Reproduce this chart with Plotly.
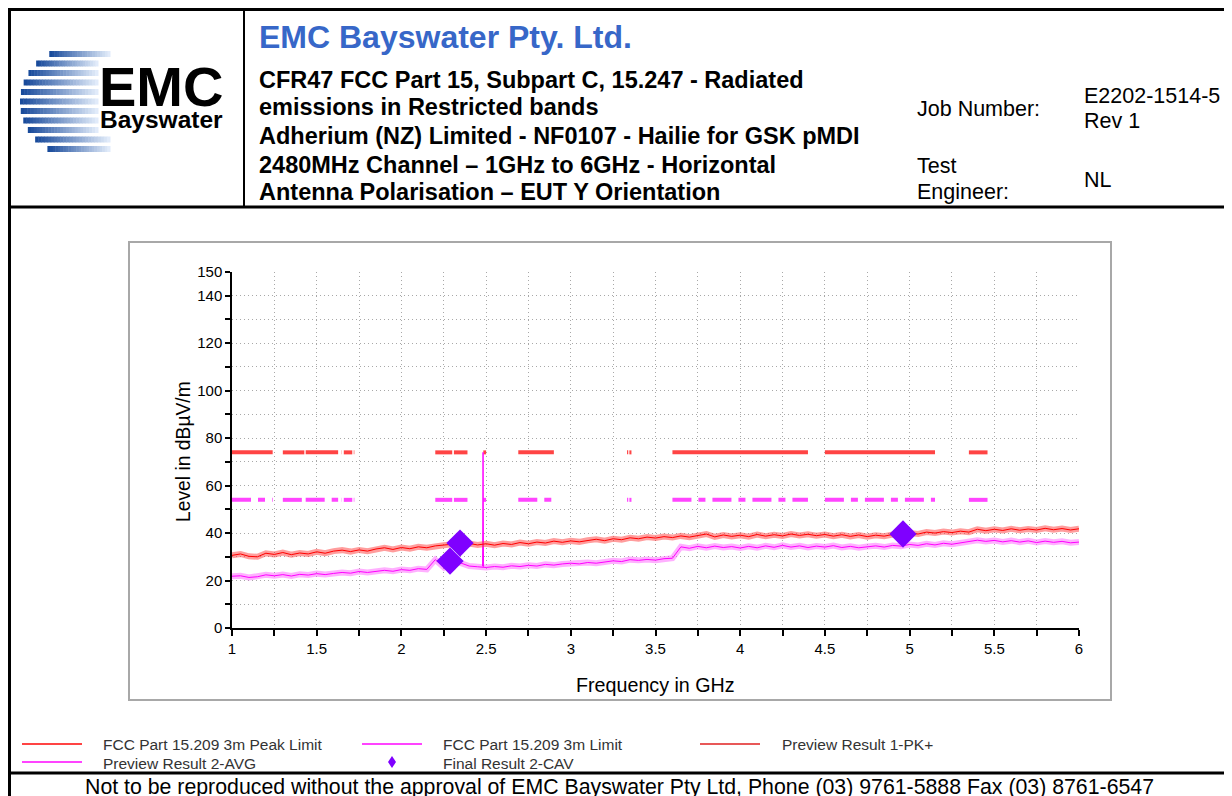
"""
EMC Bayswater radiated emissions plot (1 GHz - 6 GHz, horizontal, EUT Y)
Rebuilt with plotly
"""

import math
import plotly.graph_objects as go

W, H = 1232, 796
OFF = 8  # the page body margin shifts the figure by 8px
FONT = "Arial, Liberation Sans, sans-serif"

# sweep grid of the preview scans (GHz), 50 MHz steps
sweep_start = 1.0
sweep_step = 0.05
freq_ghz = [round(sweep_start + sweep_step * i, 2) for i in range(101)]

# Preview Result 1-PK+ (dBuV/m)
peak_level = [
    30.6, 31.2, 30.2, 30.0, 31.5, 31.0, 31.8, 30.9, 31.6, 31.2,
    32.1, 31.5, 32.4, 32.8, 32.2, 32.9, 32.4, 33.3, 33.8, 33.1,
    33.9, 33.4, 34.2, 33.8, 34.6, 34.9, 35.3, 34.8, 35.6, 35.0,
    35.5, 34.9, 35.6, 35.2, 36.0, 35.5, 36.2, 35.8, 36.6, 36.1,
    36.7, 36.3, 37.0, 37.4, 36.8, 37.6, 37.2, 38.0, 37.6, 38.3,
    37.9, 38.5, 38.1, 38.8, 38.3, 39.0, 39.6, 38.4, 39.2, 38.6,
    39.1, 38.5, 39.4, 38.7, 39.3, 38.8, 39.6, 39.0, 39.5, 38.9,
    39.4, 38.7, 39.3, 38.6, 39.2, 38.5, 39.1, 38.7, 39.4, 39.0,
    40.0, 39.6, 40.4, 40.0, 40.6, 40.2, 40.8, 40.4, 41.6, 41.0,
    41.6, 41.1, 41.8, 41.2, 41.7, 41.3, 42.0, 41.4, 41.9, 41.3,
    41.8,
]

# Preview Result 2-AVG (dBuV/m)
avg_level = [
    21.8, 22.0, 21.3, 21.6, 22.4, 22.0, 22.5, 21.9, 22.6, 22.3,
    22.9, 22.5, 23.0, 23.4, 23.1, 23.8, 23.4, 24.0, 24.3, 23.9,
    24.6, 24.3, 25.0, 24.7, 28.8, 25.6, 29.5, 27.4, 26.1, 25.8,
    25.5, 25.9, 25.6, 26.2, 25.9, 26.4, 26.1, 26.8, 26.5, 27.0,
    27.3, 27.0, 27.6, 27.3, 27.9, 28.3, 28.0, 28.8, 28.5, 28.9,
    28.6, 29.2, 29.4, 34.2, 33.6, 34.4, 33.8, 34.5, 33.9, 34.3,
    33.7, 34.4, 33.8, 34.6, 34.0, 34.8, 34.1, 34.6, 33.9, 34.5,
    34.1, 34.7, 33.9, 34.4, 33.8, 34.3, 34.6, 34.1, 34.8, 34.5,
    35.2, 34.8, 35.5, 35.0, 35.7, 35.3, 35.9, 36.4, 37.0, 36.5,
    36.9, 36.3, 36.8, 36.2, 36.7, 36.0, 36.6, 36.1, 36.5, 35.9,
    36.2,
]

# carrier spike seen in the AVG preview at 2480 MHz
carrier_freq = [2.479, 2.482, 2.485]
carrier_level = [26.0, 74.0, 25.8]

# Final Result 2-CAV
final_freq = [2.287, 2.346, 4.961]
final_level = [28.2, 35.8, 39.6]

# FCC 15.205 restricted bands shown on the plot (GHz)
band_start = [1.0, 1.3, 1.435, 1.645, 1.66, 1.7188, 2.2, 2.31, 2.4835, 2.69,
              3.332, 3.3458, 3.6, 4.5, 5.35]
band_stop = [1.24, 1.427, 1.6265, 1.6465, 1.71, 1.7222, 2.3, 2.39, 2.5, 2.9,
             3.339, 3.358, 4.4, 5.15, 5.46]
peak_limit = 74.0
avg_limit = 54.0

# ticks every 0.25 GHz / 10 dB, labels only where the reference prints them
x_tickvals = [1, 1.25, 1.5, 1.75, 2, 2.25, 2.5, 2.75, 3, 3.25, 3.5, 3.75,
              4, 4.25, 4.5, 4.75, 5, 5.25, 5.5, 5.75, 6]
x_ticktext = ['1', '', '1.5', '', '2', '', '2.5', '', '3', '', '3.5', '',
              '4', '', '4.5', '', '5', '', '5.5', '', '6']
y_tickvals = [0, 10, 20, 30, 40, 50, 60, 70, 80, 90, 100, 110, 120, 130, 140, 150]
y_ticktext = ['0', '', '20', '', '40', '', '60', '', '80', '', '100', '',
              '120', '', '140', '150']


def band_line(level):
    xs, ys = [], []
    for a, b in zip(band_start, band_stop):
        xs += [a, b, None]
        ys += [level, level, None]
    return xs, ys


# page pixel -> paper fraction
def px(x):
    return (x - OFF) / W


def py(y):
    return 1 - (y - OFF) / H


fig = go.Figure()

# limit lines
lx, ly = band_line(peak_limit)
fig.add_trace(go.Scatter(x=lx, y=ly, mode='lines', name='FCC Part 15.209 3m Peak Limit',
                         line=dict(color='#FF4444', width=4), hoverinfo='skip'))
lx, ly = band_line(avg_limit)
fig.add_trace(go.Scatter(x=lx, y=ly, mode='lines', name='FCC Part 15.209 3m Limit',
                         line=dict(color='#FF44FF', width=4, dash='19px,7px,7px,7px'),
                         hoverinfo='skip'))

# preview traces (halo + thin trace)
fig.add_trace(go.Scatter(x=freq_ghz, y=avg_level, mode='lines', showlegend=False,
                         line=dict(color='rgba(255,80,255,0.45)', width=6), hoverinfo='skip'))
fig.add_trace(go.Scatter(x=freq_ghz, y=avg_level, mode='lines', name='Preview Result 2-AVG',
                         line=dict(color='#FF00FF', width=1)))
fig.add_trace(go.Scatter(x=carrier_freq, y=carrier_level, mode='lines', showlegend=False,
                         line=dict(color='#FF00FF', width=1)))
fig.add_trace(go.Scatter(x=freq_ghz, y=peak_level, mode='lines', showlegend=False,
                         line=dict(color='rgba(255,60,60,0.5)', width=6), hoverinfo='skip'))
fig.add_trace(go.Scatter(x=freq_ghz, y=peak_level, mode='lines', name='Preview Result 1-PK+',
                         line=dict(color='#FF0000', width=1)))

# final results
fig.add_trace(go.Scatter(x=final_freq, y=final_level, mode='markers', name='Final Result 2-CAV',
                         marker=dict(symbol='diamond', size=21, color='#7F00FF', line=dict(width=0))))

# ---- page furniture, in page pixels converted to paper space ----
shapes = []


def hline(x0, x1, y, color='black', width=2):
    shapes.append(dict(type='line', xref='paper', yref='paper',
                       x0=px(x0), x1=px(x1), y0=py(y), y1=py(y),
                       line=dict(color=color, width=width)))


def vline(x, y0, y1, color='black', width=2):
    shapes.append(dict(type='line', xref='paper', yref='paper',
                       x0=px(x), x1=px(x), y0=py(y0), y1=py(y1),
                       line=dict(color=color, width=width)))


# header table
hline(8, W, 9.5, width=3)
hline(8, W, 207, width=3)
vline(9.5, 8, H, width=3)
vline(244, 8, 207, width=2)
hline(8, W, 773, width=3)

# chart frame
shapes.append(dict(type='rect', xref='paper', yref='paper',
                   x0=px(129), x1=px(1111), y0=py(242), y1=py(700),
                   line=dict(color='#A8A8A8', width=2), fillcolor='rgba(0,0,0,0)'))

# logo: striped globe
cx, cy, r = 74, 102, 54
for k in range(11):
    y = 54 + k * 9.5
    dy = y - cy
    xl = cx - math.sqrt(max(r * r - dy * dy, 0))
    xr = 110 if (y < 63 or y > 133) else 98
    n = 24
    for j in range(n):
        t = j / (n - 1)
        c = (int(25 + t * 200), int(75 + t * 160), int(155 + t * 95))
        x0 = xl + (xr - xl) * j / n
        x1 = xl + (xr - xl) * (j + 1) / n + 0.5
        hline(x0, x1, y, color='rgb(%d,%d,%d)' % c, width=6)

# legend samples
hline(22, 82, 744, color='#FF4444', width=2)
hline(362, 422, 744, color='#FF44FF', width=2)
hline(700, 760, 744, color='#E02020', width=1.5)
hline(22, 82, 762, color='#FF44FF', width=2)
shapes.append(dict(type='path', xref='paper', yref='paper',
                   path='M %f %f L %f %f L %f %f L %f %f Z' % (
                       px(392), py(756), px(396), py(762), px(392), py(768), px(388), py(762)),
                   fillcolor='#7F00FF', line=dict(width=0)))

annotations = []


def label(x, y, text, size, color='black', bold=False, anchor='left', angle=0):
    if bold:
        text = '<b>' + text + '</b>'
    annotations.append(dict(xref='paper', yref='paper', x=px(x), y=py(y), text=text,
                            showarrow=False, xanchor=anchor, yanchor='middle',
                            textangle=angle, font=dict(family=FONT, size=size, color=color)))


label(161, 86, 'EMC', 56, bold=True, anchor='center')
label(161, 120, 'Bayswater', 24.5, bold=True, anchor='center')

label(257, 37, 'EMC Bayswater Pty. Ltd.', 32, color='#3767C8', bold=True)
label(257, 80, 'CFR47 FCC Part 15, Subpart C, 15.247 - Radiated', 23.5, bold=True)
label(257, 107, 'emissions in Restricted bands', 23.5, bold=True)
label(257, 136, 'Adherium (NZ) Limited - NF0107 - Hailie for GSK pMDI', 23.5, bold=True)
label(257, 165, '2480MHz Channel \u2013 1GHz to 6GHz - Horizontal', 23.5, bold=True)
label(257, 192, 'Antenna Polarisation \u2013 EUT Y Orientation', 23.5, bold=True)

label(915, 109, 'Job Number:', 21.5)
label(1082, 96, 'E2202-1514-5', 21.5)
label(1082, 121, 'Rev 1', 21.5)
label(915, 166, 'Test', 21.5)
label(915, 192, 'Engineer:', 21.5)
label(1082, 180, 'NL', 21.5)

label(183, 452, 'Level in dB\u00b5V/m', 19.3, anchor='center', angle=-90)
label(655, 685, 'Frequency in GHz', 19.7, anchor='center')

label(101, 744, 'FCC Part 15.209 3m Peak Limit', 15.5, color='#333333')
label(441, 744, 'FCC Part 15.209 3m Limit', 15.5, color='#333333')
label(780, 744, 'Preview Result 1-PK+', 15.5, color='#333333')
label(101, 763, 'Preview Result 2-AVG', 15.5, color='#333333')
label(441, 763, 'Final Result 2-CAV', 15.5, color='#333333')

label(619, 787, 'Not to be reproduced without the approval of EMC Bayswater Pty Ltd, '
      'Phone (03) 9761-5888 Fax (03) 8761-6547', 21.3, anchor='center')

grid = dict(showgrid=True, gridcolor='#A8A8A8', griddash='1px,3px', gridwidth=1)

fig.update_layout(
    width=W,
    height=H,
    margin=dict(l=0, r=0, t=0, b=0, pad=0, autoexpand=False),
    paper_bgcolor='white',
    plot_bgcolor='rgba(0,0,0,0)',
    showlegend=False,
    font=dict(family=FONT, color='black'),
    xaxis=dict(
        domain=[px(232), px(1079)], range=[1, 6],
        tickmode='array', tickvals=x_tickvals, ticktext=x_ticktext,
        ticks='outside', ticklen=6, tickwidth=1.5, tickcolor='black',
        showline=True, linecolor='black', linewidth=1.5, zeroline=False,
        tickfont=dict(size=15, family=FONT, color='black'),
        **grid
    ),
    yaxis=dict(
        domain=[py(628), py(272)], range=[0, 150],
        tickmode='array', tickvals=y_tickvals, ticktext=y_ticktext,
        ticks='outside', ticklen=5, tickwidth=1.5, tickcolor='black',
        showline=True, linecolor='black', linewidth=1.5, zeroline=False,
        tickfont=dict(size=15, family=FONT, color='black'),
        **grid
    ),
    shapes=shapes,
    annotations=annotations,
)

fig.write_html("out.html")
